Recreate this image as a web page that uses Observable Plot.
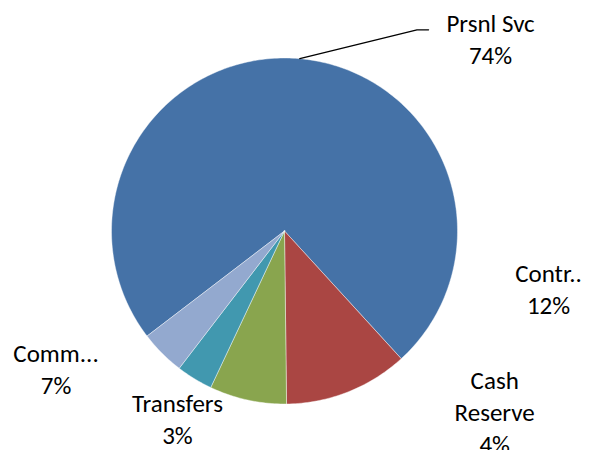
<!DOCTYPE html>
<html>
<head>
<meta charset="utf-8">
<script src="https://cdn.jsdelivr.net/npm/d3@7"></script>
<script src="https://cdn.jsdelivr.net/npm/@observablehq/plot@0.6"></script>
<style>
  html, body { margin: 0; padding: 0; background: #fff; }
  #chart svg { display: block; }
</style>
</head>
<body>
<div id="chart"></div>
<script>
// ---- data (clockwise order of slices) ----
const categories = ["Prsnl Svc", "Contr..", "Comm...", "Transfers", "Cash Reserve"];
const shares = [73.6, 11.6, 7.2, 3.4, 4.2];
const labelLines = ["Prsnl Svc", "Contr..", "Comm...", "Transfers", "Cash\nReserve"];

// ---- styling / layout config ----
const colors = ["#4572A7", "#AA4643", "#89A54E", "#4198AF", "#93A9CF"];
const startDeg = 232.6;                         // first slice start angle (clockwise from 12 o'clock)
const labelAngle = [47.1, 102.5, 238.8, 209.6, 130.8];  // label placement angle (deg)
const labelDist = [1.626, 1.563, 1.544, 1.253, 1.605];  // label distance (x radius)
const W = 598, H = 450, R = 173, CX = 284, CY = 230.5;

const total = d3.sum(shares);
const rad = Math.PI / 180;
const pie = d3.pie().sort(null).value(d => d.value)
  .startAngle(startDeg * rad).endAngle(startDeg * rad + 2 * Math.PI);
const table = categories.map((c, i) => ({
  category: c, value: shares[i],
  label: labelLines[i] + "\n" + Math.round(shares[i] / total * 100) + "%"
}));
const arcs = pie(table);

// polygon points for slices (unit radius, y up)
const slicePts = [];
for (const a of arcs) {
  const k = a.data.category;
  slicePts.push({k, x: 0, y: 0});
  const n = Math.max(2, Math.ceil((a.endAngle - a.startAngle) / rad));
  for (let j = 0; j <= n; j++) {
    const t = a.startAngle + (a.endAngle - a.startAngle) * j / n;
    slicePts.push({k, x: Math.sin(t), y: Math.cos(t)});
  }
  slicePts.push({k, x: 0, y: 0});
}

const labels = arcs.map((a, i) => ({
  text: a.data.label,
  x: labelDist[i] * Math.sin(labelAngle[i] * rad),
  y: labelDist[i] * Math.cos(labelAngle[i] * rad)
}));

// leader line for the first slice: from rim at mid-angle to left of its label
const a0 = arcs[0];
const mid0 = (a0.startAngle + a0.endAngle) / 2;
const endPt = {x: labels[0].x - 62 / R, y: labels[0].y + 9.7 / R};
const leader = [
  {x: Math.sin(mid0), y: Math.cos(mid0)},
  {x: endPt.x - 11.6 / R, y: endPt.y},
  endPt
];

const chart = Plot.plot({
  width: W, height: H,
  margin: 0,
  x: {domain: [-CX / R, (W - CX) / R], range: [0, W], axis: null},
  y: {domain: [-(H - CY) / R, CY / R], range: [H, 0], axis: null},
  color: {domain: categories, range: colors},
  style: {background: "#fff"},
  marks: [
    Plot.line(slicePts, {x: "x", y: "y", z: "k", fill: "k", stroke: "#ffffff",
      strokeWidth: 0.6, strokeOpacity: 0.7, curve: "linear"}),
    Plot.line(leader, {x: "x", y: "y", stroke: "#000", strokeWidth: 1.3}),
    Plot.text(labels, {x: "x", y: "y", text: "text", fill: "#000", dy: -2,
      fontSize: 25, lineHeight: 1.28, fontFamily: "Carlito, Calibri, Lato, sans-serif",
      textAnchor: "middle", lineAnchor: "middle"})
  ]
});
document.getElementById("chart").appendChild(chart);
</script>
</body>
</html>
